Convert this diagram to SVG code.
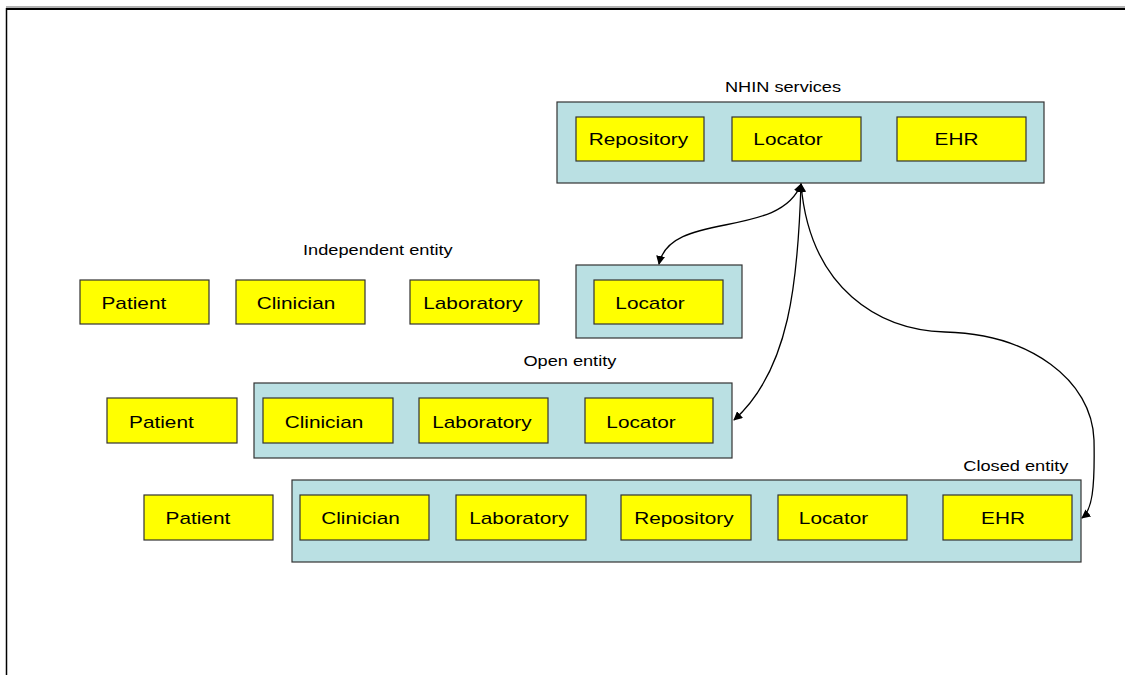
<svg xmlns="http://www.w3.org/2000/svg" width="1125" height="675" viewBox="0 0 1125 675">
<style>
text{font-family:"Liberation Sans",Arial,sans-serif;fill:#000;text-anchor:middle;transform-box:fill-box;transform-origin:center;transform:scaleX(1.3)}
.t{font-size:16px}
.l{font-size:14px}
.c{fill:#BAE0E3;stroke:#333;stroke-width:1.2}
.y{fill:#FFFF00;stroke:#333;stroke-width:1.2}
.a{fill:none;stroke:#000;stroke-width:1.3;marker-start:url(#ah);marker-end:url(#ah)}
</style>
<defs>
<marker id="ah" viewBox="0 0 10 10" refX="9" refY="5" markerWidth="9" markerHeight="9" markerUnits="userSpaceOnUse" orient="auto-start-reverse">
<path d="M0,0 L10,5 L0,10 z" fill="#000"/>
</marker>
</defs>
<rect width="1125" height="675" fill="#fff"/>
<g id="frame">
<line x1="6" y1="7" x2="1125" y2="7" stroke="#999" stroke-width="1.5"/>
<line x1="6" y1="9" x2="1125" y2="9" stroke="#000" stroke-width="2"/>
<line x1="6.5" y1="8" x2="6.5" y2="675" stroke="#000" stroke-width="1.5"/>
</g>
<g id="nhin">
<text class="l" x="783" y="92">NHIN services</text>
<rect class="c" x="557" y="102" width="487" height="81"/>
<g id="nhin-repository"><rect class="y" x="576" y="117" width="128" height="44"/><text class="t" x="638.5" y="145">Repository</text></g>
<g id="nhin-locator"><rect class="y" x="732" y="117" width="129" height="44"/><text class="t" x="788" y="145">Locator</text></g>
<g id="nhin-ehr"><rect class="y" x="897" y="117" width="129" height="44"/><text class="t" x="956.5" y="145">EHR</text></g>
</g>
<g id="independent">
<text class="l" x="378" y="255">Independent entity</text>
<g id="ind-patient"><rect class="y" x="80" y="280" width="129" height="44"/><text class="t" x="134" y="309">Patient</text></g>
<g id="ind-clinician"><rect class="y" x="236" y="280" width="129" height="44"/><text class="t" x="296" y="309">Clinician</text></g>
<g id="ind-laboratory"><rect class="y" x="410" y="280" width="129" height="44"/><text class="t" x="473" y="309">Laboratory</text></g>
<g id="ind-locator"><rect class="c" x="576" y="265" width="166" height="73"/><rect class="y" x="594" y="280" width="129" height="44"/><text class="t" x="650" y="309">Locator</text></g>
</g>
<g id="open">
<text class="l" x="570" y="366">Open entity</text>
<g id="open-patient"><rect class="y" x="107" y="398" width="130" height="45"/><text class="t" x="161.5" y="428">Patient</text></g>
<rect class="c" x="254" y="383" width="478" height="75"/>
<g id="open-clinician"><rect class="y" x="263" y="398" width="130" height="45"/><text class="t" x="324" y="428">Clinician</text></g>
<g id="open-laboratory"><rect class="y" x="419" y="398" width="129" height="45"/><text class="t" x="482" y="428">Laboratory</text></g>
<g id="open-locator"><rect class="y" x="585" y="398" width="128" height="45"/><text class="t" x="641" y="428">Locator</text></g>
</g>
<g id="closed">
<text class="l" x="1016" y="471">Closed entity</text>
<g id="closed-patient"><rect class="y" x="144" y="495" width="129" height="45"/><text class="t" x="198" y="524">Patient</text></g>
<rect class="c" x="292" y="480" width="789" height="82"/>
<g id="closed-clinician"><rect class="y" x="300" y="495" width="129" height="45"/><text class="t" x="360.5" y="524">Clinician</text></g>
<g id="closed-laboratory"><rect class="y" x="456" y="495" width="130" height="45"/><text class="t" x="519" y="524">Laboratory</text></g>
<g id="closed-repository"><rect class="y" x="621" y="495" width="130" height="45"/><text class="t" x="684" y="524">Repository</text></g>
<g id="closed-locator"><rect class="y" x="778" y="495" width="129" height="45"/><text class="t" x="833.5" y="524">Locator</text></g>
<g id="closed-ehr"><rect class="y" x="943" y="495" width="129" height="45"/><text class="t" x="1003" y="524">EHR</text></g>
</g>
<g id="connectors">
<path class="a" d="M801,184 C780,240 670,210 659,264"/>
<path class="a" d="M801,184 C798,280 790,370 734,420"/>
<path class="a" d="M801,184 C810,290 880,330 945,332 C1030,334 1092,380 1094,440 C1095,490 1092,510 1082,518"/>
</g>
</svg>
